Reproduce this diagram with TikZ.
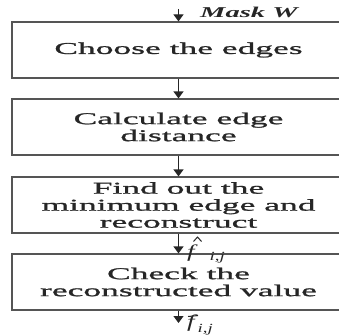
\documentclass[tikz,border=0pt]{standalone}
\usepackage{fontspec}
\usetikzlibrary{arrows.meta}
\newfontfamily\boxfont{Liberation Serif}[FakeStretch=2.15,FakeBold=1.2]
\newfontfamily\labelfont{Liberation Serif}[FakeStretch=1.9]
\newfontfamily\symfont{Liberation Serif}[FakeStretch=1.5]
\definecolor{ink}{HTML}{262626}
\definecolor{rule}{HTML}{555555}
% lowered index pair after a symbol: gap, drop
\newcommand{\idx}[2]{\hspace{#1}\raisebox{-#2}{\fontsize{12.5}{12.5}\selectfont i,j}}
\begin{document}
\begin{tikzpicture}[x=1pt,y=-1pt,
  stepbox/.style={draw=rule,line width=1.2pt,minimum width=333pt,
    inner sep=0pt,align=center,text=ink,
    font=\boxfont\fontsize{16.5}{17}\selectfont},
  flow/.style={draw=ink,line width=1.2pt,
    -{Triangle[length=7pt,width=10pt]}},
  sym/.style={text=ink,inner sep=0pt,anchor=west,
    font=\symfont\itshape\fontsize{18}{19}\selectfont},
  mark line/.style={draw=ink,line width=1pt}]
  \useasboundingbox (0,0) rectangle (339,334);
  \clip (0,0) rectangle (339,334);
  % process steps
  \node[stepbox,minimum height=56pt] (b1) at (178.5,50) {Choose the edges};
  \node[stepbox,minimum height=56pt] (b2) at (178.5,127) {Calculate edge\\distance};
  \node[stepbox,minimum height=56pt] (b3) at (178.5,205) {Find out the\\minimum edge and\\reconstruct};
  \node[stepbox,minimum height=56pt] (b4) at (178.5,282) {Check the\\reconstructed value};
  % input and output ends
  \coordinate (in) at (178.5,9);
  \coordinate (out) at (178.5,323);
  % connectors
  \draw[flow] (in) -- (b1.north);
  \draw[flow] (b1.south) -- (b2.north);
  \draw[flow] (b2.south) -- (b3.north);
  \draw[flow] (b3.south) -- (b4.north);
  \draw[flow] (b4.south) -- (out);
  % labels
  \node[text=ink,inner sep=0pt,anchor=west,
    font=\labelfont\bfseries\itshape\fontsize{15}{16}\selectfont] (mask) at (200,12) {Mask W};
  \node[sym] (fhat) at (187,254) {f\idx{15pt}{3pt}};
  \draw[mark line] (193.5,241.5) -- (197.5,237) -- (201.5,241.5);
  \node[sym] (fbar) at (187,325) {f\idx{3pt}{5pt}};
  \draw[mark line] (188,316.5) -- (198,315.5);
\end{tikzpicture}
\end{document}
